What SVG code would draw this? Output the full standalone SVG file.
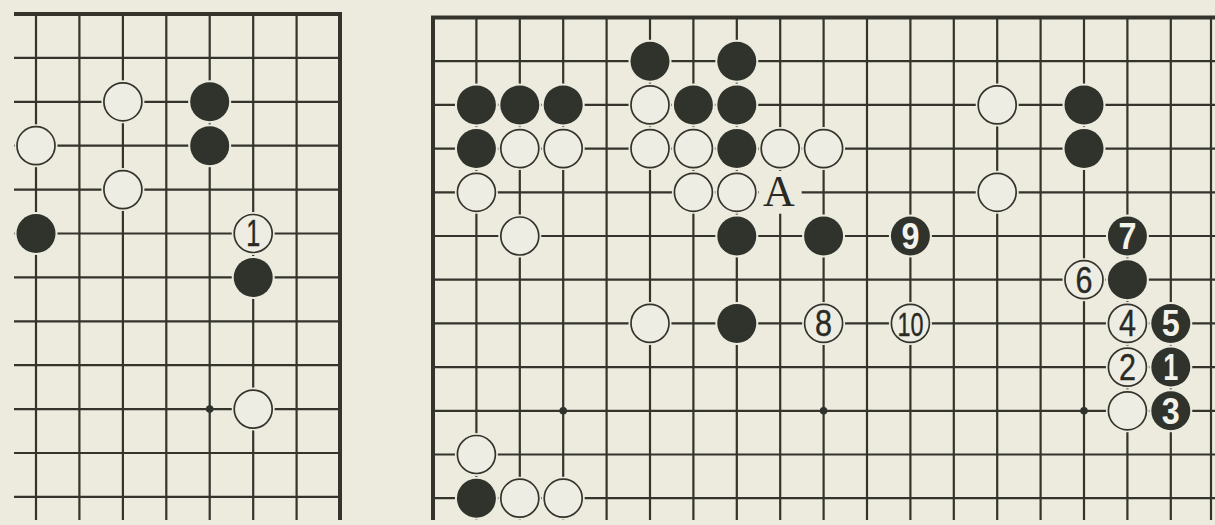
<svg xmlns="http://www.w3.org/2000/svg" width="1215" height="525" viewBox="0 0 1215 525">
<defs>
<style>
.bg{fill:#ecebde}
.ln{fill:none;stroke:#34342d;stroke-width:2.2}
.edge{fill:none;stroke:#34342d;stroke-width:4}
.halo{fill:#ecebde}
.w{fill:#eeede3;stroke:#34342d;stroke-width:1.7}
.b{fill:#2f332c}
.star{fill:#2f332c}
.nw{font-family:"Liberation Sans",Arial,sans-serif;font-size:36px;fill:#2a2a25;text-anchor:middle;stroke:#2a2a25;stroke-width:0.4}
.nb{font-family:"Liberation Sans",Arial,sans-serif;font-size:36px;font-weight:bold;fill:#f3f3ec;text-anchor:middle}
.lab{font-family:"Liberation Serif","Times New Roman",serif;font-size:44px;fill:#2a2a25;text-anchor:middle}
</style>
</defs>
<rect class="bg" x="0" y="0" width="1215" height="525"/>
<g id="connectors">
<g id="left-grid">
<path class="ln" d="M14 57.9H340M14 101.8H340M14 145.7H340M14 189.6H340M14 233.5H340M14 277.4H340M14 321.3H340M14 365.2H340M14 409.1H340M14 453H340M14 496.9H340M36 14V520M79.4 14V520M122.9 14V520M166.3 14V520M209.7 14V520M253.2 14V520M296.6 14V520"/>
<path class="edge" d="M14 14H342M340 12V520"/>
<circle class="star" cx="209.7" cy="409.1" r="3.8"/>
</g>
<g id="right-grid">
<path class="ln" d="M433 61.2H1215M433 104.9H1215M433 148.6H1215M433 192.3H1215M433 236H1215M433 279.7H1215M433 323.4H1215M433 367.1H1215M433 410.8H1215M433 454.5H1215M433 498.2H1215M476.4 17.5V520M519.8 17.5V520M563.2 17.5V520M606.6 17.5V520M650 17.5V520M693.4 17.5V520M736.8 17.5V520M780.2 17.5V520M823.6 17.5V520M867 17.5V520M910.4 17.5V520M953.8 17.5V520M997.2 17.5V520M1040.6 17.5V520M1084 17.5V520M1127.4 17.5V520M1170.8 17.5V520M1211 17.5V520"/>
<path class="edge" d="M431 17.5H1215M433 15.5V520"/>
<circle class="star" cx="563.2" cy="410.8" r="3.8"/>
<circle class="star" cx="823.6" cy="410.8" r="3.8"/>
<circle class="star" cx="1084" cy="410.8" r="3.8"/>
</g>
</g>
<g id="left-board">
<g id="L-w-c2r2"><circle class="halo" cx="122.9" cy="101.8" r="21.5"/><circle class="w" cx="122.9" cy="101.8" r="19"/></g>
<g id="L-b-c4r2"><circle class="halo" cx="209.7" cy="101.8" r="21.5"/><circle class="b" cx="209.7" cy="101.8" r="19.5"/></g>
<g id="L-w-c0r3"><circle class="halo" cx="36" cy="145.7" r="21.5"/><circle class="w" cx="36" cy="145.7" r="19"/></g>
<g id="L-b-c4r3"><circle class="halo" cx="209.7" cy="145.7" r="21.5"/><circle class="b" cx="209.7" cy="145.7" r="19.5"/></g>
<g id="L-w-c2r4"><circle class="halo" cx="122.9" cy="189.6" r="21.5"/><circle class="w" cx="122.9" cy="189.6" r="19"/></g>
<g id="L-b-c0r5"><circle class="halo" cx="36" cy="233.5" r="21.5"/><circle class="b" cx="36" cy="233.5" r="19.5"/></g>
<g id="L-w1"><circle class="halo" cx="253.2" cy="233.5" r="21.5"/><circle class="w" cx="253.2" cy="233.5" r="19"/><text class="nw" x="253.2" y="246.4" textLength="14" lengthAdjust="spacingAndGlyphs">1</text></g>
<g id="L-b-c5r6"><circle class="halo" cx="253.2" cy="277.4" r="21.5"/><circle class="b" cx="253.2" cy="277.4" r="19.5"/></g>
<g id="L-w-c5r9"><circle class="halo" cx="253.2" cy="409.1" r="21.5"/><circle class="w" cx="253.2" cy="409.1" r="19"/></g>
</g>
<g id="right-board">
<g id="R-b-5-1"><circle class="halo" cx="650" cy="61.2" r="21.5"/><circle class="b" cx="650" cy="61.2" r="19.5"/></g>
<g id="R-b-7-1"><circle class="halo" cx="736.8" cy="61.2" r="21.5"/><circle class="b" cx="736.8" cy="61.2" r="19.5"/></g>
<g id="R-b-1-2"><circle class="halo" cx="476.4" cy="104.9" r="21.5"/><circle class="b" cx="476.4" cy="104.9" r="19.5"/></g>
<g id="R-b-2-2"><circle class="halo" cx="519.8" cy="104.9" r="21.5"/><circle class="b" cx="519.8" cy="104.9" r="19.5"/></g>
<g id="R-b-3-2"><circle class="halo" cx="563.2" cy="104.9" r="21.5"/><circle class="b" cx="563.2" cy="104.9" r="19.5"/></g>
<g id="R-w-5-2"><circle class="halo" cx="650" cy="104.9" r="21.5"/><circle class="w" cx="650" cy="104.9" r="19"/></g>
<g id="R-b-6-2"><circle class="halo" cx="693.4" cy="104.9" r="21.5"/><circle class="b" cx="693.4" cy="104.9" r="19.5"/></g>
<g id="R-b-7-2"><circle class="halo" cx="736.8" cy="104.9" r="21.5"/><circle class="b" cx="736.8" cy="104.9" r="19.5"/></g>
<g id="R-w-13-2"><circle class="halo" cx="997.2" cy="104.9" r="21.5"/><circle class="w" cx="997.2" cy="104.9" r="19"/></g>
<g id="R-b-15-2"><circle class="halo" cx="1084" cy="104.9" r="21.5"/><circle class="b" cx="1084" cy="104.9" r="19.5"/></g>
<g id="R-b-1-3"><circle class="halo" cx="476.4" cy="148.6" r="21.5"/><circle class="b" cx="476.4" cy="148.6" r="19.5"/></g>
<g id="R-w-2-3"><circle class="halo" cx="519.8" cy="148.6" r="21.5"/><circle class="w" cx="519.8" cy="148.6" r="19"/></g>
<g id="R-w-3-3"><circle class="halo" cx="563.2" cy="148.6" r="21.5"/><circle class="w" cx="563.2" cy="148.6" r="19"/></g>
<g id="R-w-5-3"><circle class="halo" cx="650" cy="148.6" r="21.5"/><circle class="w" cx="650" cy="148.6" r="19"/></g>
<g id="R-w-6-3"><circle class="halo" cx="693.4" cy="148.6" r="21.5"/><circle class="w" cx="693.4" cy="148.6" r="19"/></g>
<g id="R-b-7-3"><circle class="halo" cx="736.8" cy="148.6" r="21.5"/><circle class="b" cx="736.8" cy="148.6" r="19.5"/></g>
<g id="R-w-8-3"><circle class="halo" cx="780.2" cy="148.6" r="21.5"/><circle class="w" cx="780.2" cy="148.6" r="19"/></g>
<g id="R-w-9-3"><circle class="halo" cx="823.6" cy="148.6" r="21.5"/><circle class="w" cx="823.6" cy="148.6" r="19"/></g>
<g id="R-b-15-3"><circle class="halo" cx="1084" cy="148.6" r="21.5"/><circle class="b" cx="1084" cy="148.6" r="19.5"/></g>
<g id="R-w-1-4"><circle class="halo" cx="476.4" cy="192.3" r="21.5"/><circle class="w" cx="476.4" cy="192.3" r="19"/></g>
<g id="R-w-6-4"><circle class="halo" cx="693.4" cy="192.3" r="21.5"/><circle class="w" cx="693.4" cy="192.3" r="19"/></g>
<g id="R-w-7-4"><circle class="halo" cx="736.8" cy="192.3" r="21.5"/><circle class="w" cx="736.8" cy="192.3" r="19"/></g>
<g id="R-A"><circle class="halo" cx="780.2" cy="192.3" r="21.5"/><text class="lab" x="779" y="206">A</text></g>
<g id="R-w-13-4"><circle class="halo" cx="997.2" cy="192.3" r="21.5"/><circle class="w" cx="997.2" cy="192.3" r="19"/></g>
<g id="R-w-2-5"><circle class="halo" cx="519.8" cy="236" r="21.5"/><circle class="w" cx="519.8" cy="236" r="19"/></g>
<g id="R-b-7-5"><circle class="halo" cx="736.8" cy="236" r="21.5"/><circle class="b" cx="736.8" cy="236" r="19.5"/></g>
<g id="R-b-9-5"><circle class="halo" cx="823.6" cy="236" r="21.5"/><circle class="b" cx="823.6" cy="236" r="19.5"/></g>
<g id="R-b9"><circle class="halo" cx="910.4" cy="236" r="21.5"/><circle class="b" cx="910.4" cy="236" r="19.5"/><text class="nb" x="910.4" y="248.9" textLength="18" lengthAdjust="spacingAndGlyphs">9</text></g>
<g id="R-b7"><circle class="halo" cx="1127.4" cy="236" r="21.5"/><circle class="b" cx="1127.4" cy="236" r="19.5"/><text class="nb" x="1127.4" y="248.9" textLength="18" lengthAdjust="spacingAndGlyphs">7</text></g>
<g id="R-w6"><circle class="halo" cx="1084" cy="279.7" r="21.5"/><circle class="w" cx="1084" cy="279.7" r="19"/><text class="nw" x="1084" y="292.6" textLength="17" lengthAdjust="spacingAndGlyphs">6</text></g>
<g id="R-b-16-6"><circle class="halo" cx="1127.4" cy="279.7" r="21.5"/><circle class="b" cx="1127.4" cy="279.7" r="19.5"/></g>
<g id="R-w-5-7"><circle class="halo" cx="650" cy="323.4" r="21.5"/><circle class="w" cx="650" cy="323.4" r="19"/></g>
<g id="R-b-7-7"><circle class="halo" cx="736.8" cy="323.4" r="21.5"/><circle class="b" cx="736.8" cy="323.4" r="19.5"/></g>
<g id="R-w8"><circle class="halo" cx="823.6" cy="323.4" r="21.5"/><circle class="w" cx="823.6" cy="323.4" r="19"/><text class="nw" x="823.6" y="336.3" textLength="17" lengthAdjust="spacingAndGlyphs">8</text></g>
<g id="R-w10"><circle class="halo" cx="910.4" cy="323.4" r="21.5"/><circle class="w" cx="910.4" cy="323.4" r="19"/><text class="nw" x="910.4" y="335.6" style="font-size:33px" textLength="26" lengthAdjust="spacingAndGlyphs">10</text></g>
<g id="R-w4"><circle class="halo" cx="1127.4" cy="323.4" r="21.5"/><circle class="w" cx="1127.4" cy="323.4" r="19"/><text class="nw" x="1127.4" y="336.3" textLength="17" lengthAdjust="spacingAndGlyphs">4</text></g>
<g id="R-b5"><circle class="halo" cx="1170.8" cy="323.4" r="21.5"/><circle class="b" cx="1170.8" cy="323.4" r="19.5"/><text class="nb" x="1170.8" y="336.3" textLength="18" lengthAdjust="spacingAndGlyphs">5</text></g>
<g id="R-w2"><circle class="halo" cx="1127.4" cy="367.1" r="21.5"/><circle class="w" cx="1127.4" cy="367.1" r="19"/><text class="nw" x="1127.4" y="380" textLength="17" lengthAdjust="spacingAndGlyphs">2</text></g>
<g id="R-b1"><circle class="halo" cx="1170.8" cy="367.1" r="21.5"/><circle class="b" cx="1170.8" cy="367.1" r="19.5"/><text class="nb" x="1170.8" y="380" textLength="15" lengthAdjust="spacingAndGlyphs">1</text></g>
<g id="R-w-16-9"><circle class="halo" cx="1127.4" cy="410.8" r="21.5"/><circle class="w" cx="1127.4" cy="410.8" r="19"/></g>
<g id="R-b3"><circle class="halo" cx="1170.8" cy="410.8" r="21.5"/><circle class="b" cx="1170.8" cy="410.8" r="19.5"/><text class="nb" x="1170.8" y="423.7" textLength="18" lengthAdjust="spacingAndGlyphs">3</text></g>
<g id="R-w-1-10"><circle class="halo" cx="476.4" cy="454.5" r="21.5"/><circle class="w" cx="476.4" cy="454.5" r="19"/></g>
<g id="R-b-1-11"><circle class="halo" cx="476.4" cy="498.2" r="21.5"/><circle class="b" cx="476.4" cy="498.2" r="19.5"/></g>
<g id="R-w-2-11"><circle class="halo" cx="519.8" cy="498.2" r="21.5"/><circle class="w" cx="519.8" cy="498.2" r="19"/></g>
<g id="R-w-3-11"><circle class="halo" cx="563.2" cy="498.2" r="21.5"/><circle class="w" cx="563.2" cy="498.2" r="19"/></g>
</g>
</svg>
